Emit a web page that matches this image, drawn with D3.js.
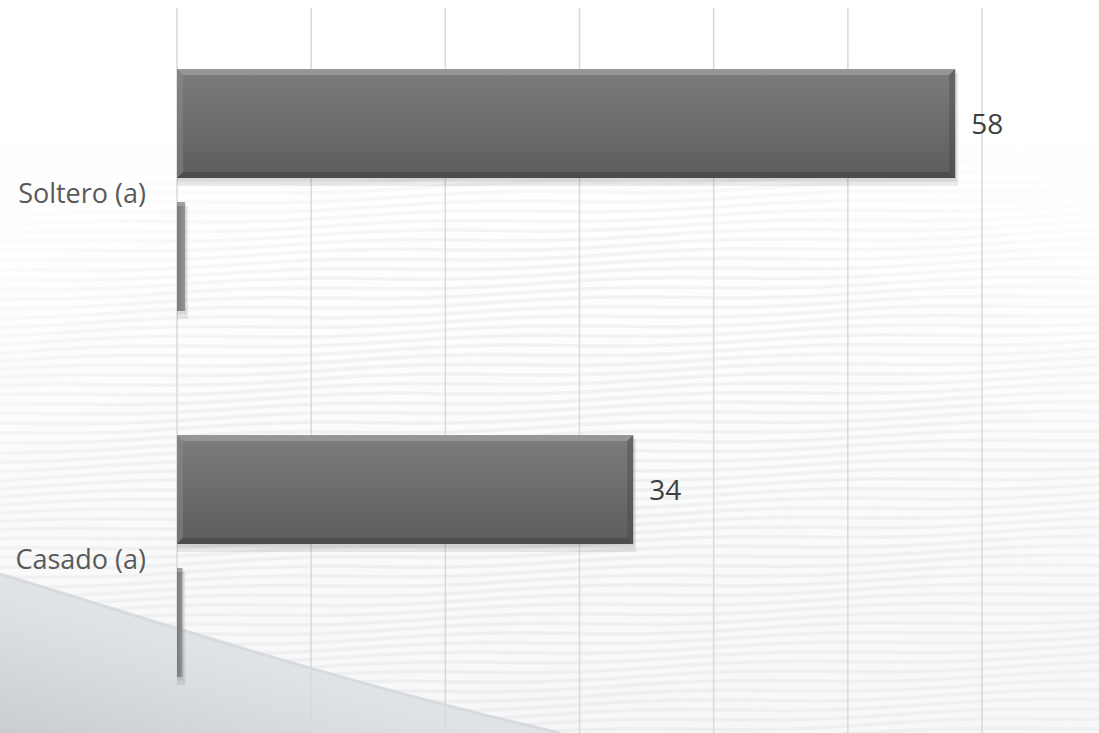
<!DOCTYPE html>
<html><head><meta charset="utf-8">
<script src="https://cdn.jsdelivr.net/npm/d3@7"></script>
<style>html,body{margin:0;padding:0;background:#fff;overflow:hidden}svg{display:block}</style>
</head><body>
<script>
const categories = ["Soltero (a)", "Casado (a)"];
const seriesMain = [58, 34];
const seriesMinor = [0.6, 0.4];
const tickValues = [0, 10, 20, 30, 40, 50, 60];
const seriesNames = ["main", "minor"];

const W = 1099, H = 733;
const svg = d3.select("body").append("svg").attr("width", W).attr("height", H);
const defs = svg.append("defs");

// background
const bgGrad = defs.append("linearGradient").attr("id","bg").attr("x1",0).attr("y1",0).attr("x2",0).attr("y2",1);
bgGrad.append("stop").attr("offset","0").attr("stop-color","#ffffff");
bgGrad.append("stop").attr("offset","0.35").attr("stop-color","#fefefe");
bgGrad.append("stop").attr("offset","1").attr("stop-color","#f6f7f8");
svg.append("rect").attr("width",W).attr("height",H).attr("fill","url(#bg)");

// wavy texture
const waveMask = defs.append("radialGradient").attr("id","wm").attr("cx",0.5).attr("cy",0.8).attr("r",0.75);
waveMask.append("stop").attr("offset","0").attr("stop-color","#fff").attr("stop-opacity",1);
waveMask.append("stop").attr("offset","0.6").attr("stop-color","#fff").attr("stop-opacity",0.75);
waveMask.append("stop").attr("offset","1").attr("stop-color","#fff").attr("stop-opacity",0);
const mask = defs.append("mask").attr("id","wavemask");
mask.append("rect").attr("width",W).attr("height",H).attr("fill","url(#wm)");
const waves = svg.append("g").attr("mask","url(#wavemask)");
for (let y0 = 190; y0 < H + 40; y0 += 9) {
  const pts = d3.range(0, W + 20, 20).map(x => [x, y0 + 2.5*Math.sin(x/60 + y0/23) + (x/W)*(-30)]);
  waves.append("path").attr("d", d3.line().curve(d3.curveBasis)(pts))
    .attr("fill","none").attr("stroke","#e6e8ea").attr("stroke-width",3.5).attr("opacity",0.6);
}

// swoosh bottom-left
const swGrad = defs.append("linearGradient").attr("id","sw").attr("x1",0).attr("y1",1).attr("x2",1).attr("y2",0);
swGrad.append("stop").attr("offset","0").attr("stop-color","#c9cdd2");
swGrad.append("stop").attr("offset","0.45").attr("stop-color","#e0e3e6");
swGrad.append("stop").attr("offset","1").attr("stop-color","#eceef0");
svg.append("path").attr("d","M0,574 C120,610 330,680 560,733 L0,733 Z").attr("fill","url(#sw)");
svg.append("path").attr("d","M0,574 C120,610 330,680 560,733").attr("fill","none").attr("stroke","#d3d6da").attr("stroke-width",3).attr("opacity",0.8);

// scales
const x = d3.scaleLinear().domain([0, 60]).range([177, 982]);
const y = d3.scaleBand().domain(categories).range([7, 739]).paddingInner(0.339).paddingOuter(0.1695);
const ys = d3.scaleBand().domain(seriesNames).range([0, y.bandwidth()]).paddingInner(0.18);

// gridlines
svg.append("g").selectAll("line").data(tickValues).join("line")
  .attr("x1", d => x(d)).attr("x2", d => x(d)).attr("y1", 8).attr("y2", H)
  .attr("stroke", "#d9d9d9").attr("stroke-width", 1.5);

// bar gradient
const barGrad = defs.append("linearGradient").attr("id","bar").attr("x1",0).attr("y1",0).attr("x2",0).attr("y2",1);
barGrad.append("stop").attr("offset","0").attr("stop-color","#7c7c7c");
barGrad.append("stop").attr("offset","1").attr("stop-color","#5d5d5d");
const minorGrad = defs.append("linearGradient").attr("id","minor").attr("x1",0).attr("y1",0).attr("x2",1).attr("y2",0);
minorGrad.append("stop").attr("offset","0").attr("stop-color","#7a7a7a");
minorGrad.append("stop").attr("offset","1").attr("stop-color","#929292");

const rows = [];
categories.forEach((c, i) => {
  rows.push({cat: c, s: "main", v: seriesMain[i]});
  rows.push({cat: c, s: "minor", v: seriesMinor[i]});
});

function drawBar(g, d) {
  const x0 = x(0), x1 = x(d.v), y0 = y(d.cat) + ys(d.s), h = ys.bandwidth(), y1 = y0 + h;
  const w = x1 - x0;
  g.append("rect").attr("x", x0).attr("y", y0 + 4).attr("width", w + 3).attr("height", h + 4).attr("fill", "#000").attr("opacity", 0.08);
  g.append("rect").attr("x", x0).attr("y", y0 + 2).attr("width", w + 1.5).attr("height", h + 1.5).attr("fill", "#000").attr("opacity", 0.07);
  if (d.s === "main") {
    g.append("rect").attr("x", x0).attr("y", y0).attr("width", w).attr("height", h).attr("fill", "url(#bar)");
    const b = 6;
    g.append("path").attr("d", `M${x0},${y0}L${x1},${y0}L${x1-b},${y0+b}L${x0+b},${y0+b}Z`).attr("fill","#a9a9a9").attr("opacity",0.6);
    g.append("path").attr("d", `M${x0},${y0}L${x0+b},${y0+b}L${x0+b},${y1-b}L${x0},${y1}Z`).attr("fill","#8f8f8f").attr("opacity",0.45);
    g.append("path").attr("d", `M${x1},${y0}L${x1},${y1}L${x1-b},${y1-b}L${x1-b},${y0+b}Z`).attr("fill","#3f3f3f").attr("opacity",0.35);
    g.append("path").attr("d", `M${x0},${y1}L${x1},${y1}L${x1-b},${y1-b}L${x0+b},${y1-b}Z`).attr("fill","#3a3a3a").attr("opacity",0.45);
  } else {
    g.append("rect").attr("x", x0).attr("y", y0).attr("width", w).attr("height", h).attr("fill", "url(#minor)");
    g.append("rect").attr("x", x0).attr("y", y0).attr("width", w).attr("height", 4).attr("fill", "#b0b0b0").attr("opacity",0.6);
  }
}
const barsG = svg.append("g");
rows.forEach(d => drawBar(barsG.append("g"), d));

// value labels for main series
svg.append("g").selectAll("text").data(categories).join("text")
  .attr("x", (c, i) => x(seriesMain[i]) + 16)
  .attr("y", c => y(c) + ys("main") + ys.bandwidth() / 2)
  .attr("dy", "0.36em")
  .attr("font-family", "'Open Sans', sans-serif").attr("font-size", 28)
  .attr("fill", "#404040")
  .text((c, i) => seriesMain[i]);

// category labels
svg.append("g").selectAll("text").data(categories).join("text")
  .attr("x", 146)
  .attr("y", c => y(c) + y.bandwidth() / 2 + 3)
  .attr("dy", "0.36em")
  .attr("text-anchor", "end")
  .attr("font-family", "'Open Sans', sans-serif").attr("font-size", 27)
  .attr("fill", "#595959")
  .text(c => c);
</script>
</body></html>
